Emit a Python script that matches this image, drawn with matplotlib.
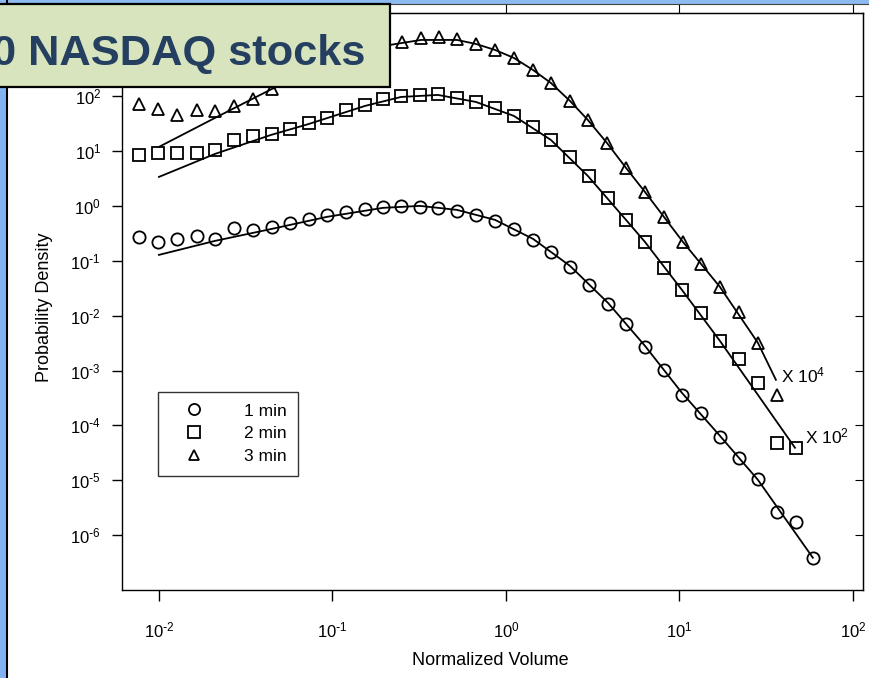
import numpy as np
import matplotlib.pyplot as plt
from matplotlib.lines import Line2D
from matplotlib.patches import Rectangle
from matplotlib.ticker import FuncFormatter

plt.rcParams['font.family'] = ['Liberation Sans', 'DejaVu Sans']
plt.rcParams['mathtext.default'] = 'regular'
plt.rcParams['axes.unicode_minus'] = False

# log10 of normalized volume (bin centres) for 1 min and 2 min
log_vol = [-2.115, -2.006, -1.896, -1.781, -1.677, -1.568, -1.458, -1.349, -1.245,
           -1.135, -1.032, -0.922, -0.813, -0.709, -0.605, -0.496, -0.392, -0.282,
           -0.173, -0.063, 0.046, 0.156, 0.259, 0.369, 0.478, 0.588, 0.692, 0.801,
           0.911, 1.014, 1.124, 1.233, 1.343, 1.452, 1.562, 1.671, 1.769]

# log10 probability density as plotted (2 min shifted x10^2, 3 min x10^4)
log_pdf_1min = [-0.565, -0.656, -0.601, -0.546, -0.601, -0.401, -0.437, -0.383, -0.310,
                -0.237, -0.164, -0.109, -0.055, -0.018, 0.0, -0.018, -0.036, -0.091,
                -0.164, -0.273, -0.419, -0.619, -0.838, -1.111, -1.439, -1.785, -2.149,
                -2.568, -2.987, -3.443, -3.770, -4.208, -4.590, -4.973, -5.574, -5.756,
                -6.412]
log_pdf_2min = [0.929, 0.965, 0.965, 0.965, 1.020, 1.202, 1.275, 1.311, 1.403,
                1.512, 1.603, 1.749, 1.840, 1.949, 2.004, 2.022, 2.040, 1.967,
                1.894, 1.785, 1.639, 1.439, 1.202, 0.893, 0.546, 0.146, -0.255,
                -0.656, -1.129, -1.530, -1.949, -2.459, -2.787, -3.224, -4.317, -4.408]

# 3 min points (those hidden behind the title box are left out)
log_vol_3min = [-2.115, -2.006, -1.896, -1.781, -1.677, -1.568, -1.458, -1.349,
                -0.599, -0.490, -0.386, -0.282, -0.173, -0.063, 0.046, 0.156, 0.259,
                0.369, 0.472, 0.582, 0.692, 0.801, 0.911, 1.020, 1.124, 1.233, 1.343,
                1.452, 1.562]
log_pdf_3min = [1.858, 1.767, 1.658, 1.749, 1.730, 1.821, 1.949, 2.131,
                2.987, 3.060, 3.078, 3.042, 2.951, 2.842, 2.696, 2.477, 2.240,
                1.913, 1.566, 1.148, 0.692, 0.255, -0.200, -0.656, -1.056, -1.475,
                -1.931, -2.495, -3.443]

# fitted curves, knots (log10 x, log10 y)
fit1_x = [-2.0, -1.677, -1.349, -1.032, -0.709, -0.496, -0.282, -0.063, 0.156,
          0.369, 0.588, 0.801, 1.014, 1.233, 1.452, 1.769]
fit1_y = [-0.893, -0.638, -0.419, -0.200, -0.036, 0.0, -0.073, -0.255, -0.601,
          -1.093, -1.767, -2.550, -3.406, -4.189, -4.991, -6.412]
fit2_x = [-2.0, -1.677, -1.354, -1.135, -0.813, -0.605, -0.392, -0.173, 0.046,
          0.259, 0.472, 0.692, 0.801, 1.014, 1.233, 1.452, 1.666]
fit2_y = [0.528, 0.947, 1.293, 1.494, 1.821, 1.985, 2.022, 1.894, 1.639,
          1.202, 0.546, -0.255, -0.656, -1.530, -2.459, -3.443, -4.408]
fit3_x = [-2.0, -1.677, -1.349, -1.014, -0.669, -0.490, -0.282, -0.173, -0.063,
          0.046, 0.156, 0.259, 0.369, 0.472, 0.582, 0.692, 0.801, 1.020, 1.233,
          1.452, 1.556]
fit3_y = [1.075, 1.603, 2.131, 2.550, 2.933, 3.024, 3.024, 2.951, 2.842,
          2.696, 2.477, 2.240, 1.913, 1.566, 1.148, 0.692, 0.255, -0.656, -1.475,
          -2.495, -3.170]

legend_labels = ['1 min', '2 min', '3 min']
xticks = [1e-2, 1e-1, 1e0, 1e1, 1e2]
yticks = [1e-6, 1e-5, 1e-4, 1e-3, 1e-2, 1e-1, 1e0, 1e1, 1e2]

W, H = 870, 678
fig = plt.figure(figsize=(W / 100, H / 100), dpi=100)
ax = fig.add_axes([122 / W, 1 - 590 / H, (863 - 122) / W, (590 - 13) / H])

p = lambda a: np.power(10.0, a)
mk = dict(ls='none', mfc='none', mec='black', mew=1.3)
ax.plot(p(log_vol), p(log_pdf_1min), marker='o', ms=8.8, **mk)
ax.plot(p(log_vol[:len(log_pdf_2min)]), p(log_pdf_2min), marker='s', ms=8.8, **mk)
ax.plot(p(log_vol_3min), p(log_pdf_3min), marker='^', ms=8, **mk)
for fx, fy in [(fit1_x, fit1_y), (fit2_x, fit2_y), (fit3_x, fit3_y)]:
    ax.plot(p(fx), p(fy), color='black', lw=1.3)

ax.text(p(1.585), p(-3.097), 'X 10$^4$', fontsize=12.5, va='center', ha='left')
ax.text(p(1.723), p(-4.208), 'X 10$^2$', fontsize=12.5, va='center', ha='left')


def pow10(v, pos):
    e = int(round(np.log10(v)))
    s = str(e).replace('-', r'\text{-}')
    return r'$10^{%s}$' % s


ax.set_xscale('log')
ax.set_yscale('log')
ax.set_xlim(p(-2.213), p(2.058))
ax.set_ylim(1e-7, p(3.515))
ax.set_xticks(xticks)
ax.set_yticks(yticks)
ax.xaxis.set_major_formatter(FuncFormatter(pow10))
ax.yaxis.set_major_formatter(FuncFormatter(pow10))
ax.minorticks_off()
ax.tick_params(axis='x', direction='out', length=8, width=1, pad=14, labelsize=12)
ax.tick_params(axis='y', direction='out', length=7, width=1, pad=8, labelsize=12)
for s in ax.spines.values():
    s.set_linewidth(1.0)

top = ax.secondary_xaxis('top')
top.set_xticks(xticks)
top.tick_params(direction='out', length=7, labeltop=False)
top.minorticks_off()
right = ax.secondary_yaxis('right')
right.set_yticks(yticks)
right.tick_params(direction='in', length=6, labelright=False)
right.minorticks_off()

ax.set_xlabel('Normalized Volume', fontsize=13, va='center')
ax.xaxis.set_label_coords(0.497, -0.123)
ax.set_ylabel('Probability Density', fontsize=13, va='center')
ax.yaxis.set_label_coords(-0.104, 0.49)

handles = [Line2D([], [], marker=m, ms=s, **mk) for m, s in [('o', 8), ('s', 8), ('^', 7)]]
leg = ax.legend(handles, legend_labels, loc='upper left', bbox_to_anchor=(0.0486, 0.343),
                fontsize=12.5, frameon=True, fancybox=False, edgecolor='black',
                borderpad=0.65, handlelength=2.8, handletextpad=1.5, labelspacing=0.45,
                borderaxespad=0)
leg.get_frame().set_linewidth(1.0)

# slide decoration: blue frame and title box
fig.add_artist(Rectangle((0, 0), 6 / W, 1, transform=fig.transFigure,
                         color='#82b3f0', zorder=8))
fig.add_artist(Rectangle((0, 1 - 3 / H), 1, 3 / H, transform=fig.transFigure,
                         color='#8dbaf0', zorder=8))
fig.add_artist(Line2D([7 / W, 7 / W], [0, 1], transform=fig.transFigure,
                      color='black', lw=1.5, zorder=9))
fig.add_artist(Line2D([0, 1], [1 - 3.5 / H, 1 - 3.5 / H], transform=fig.transFigure,
                      color='#444444', lw=0.8, zorder=9))
fig.add_artist(Rectangle((-0.05, 1 - 87 / H), 390 / W + 0.05, 83 / H,
                         transform=fig.transFigure, facecolor='#d8e4bd',
                         edgecolor='black', lw=1.6, zorder=10))
fig.text(-8 / W, 1 - 65 / H, '0 NASDAQ stocks', fontsize=31.2, fontweight='bold',
         color='#243f60', ha='left', va='baseline', zorder=11)

fig.savefig('out.png', dpi=100)
